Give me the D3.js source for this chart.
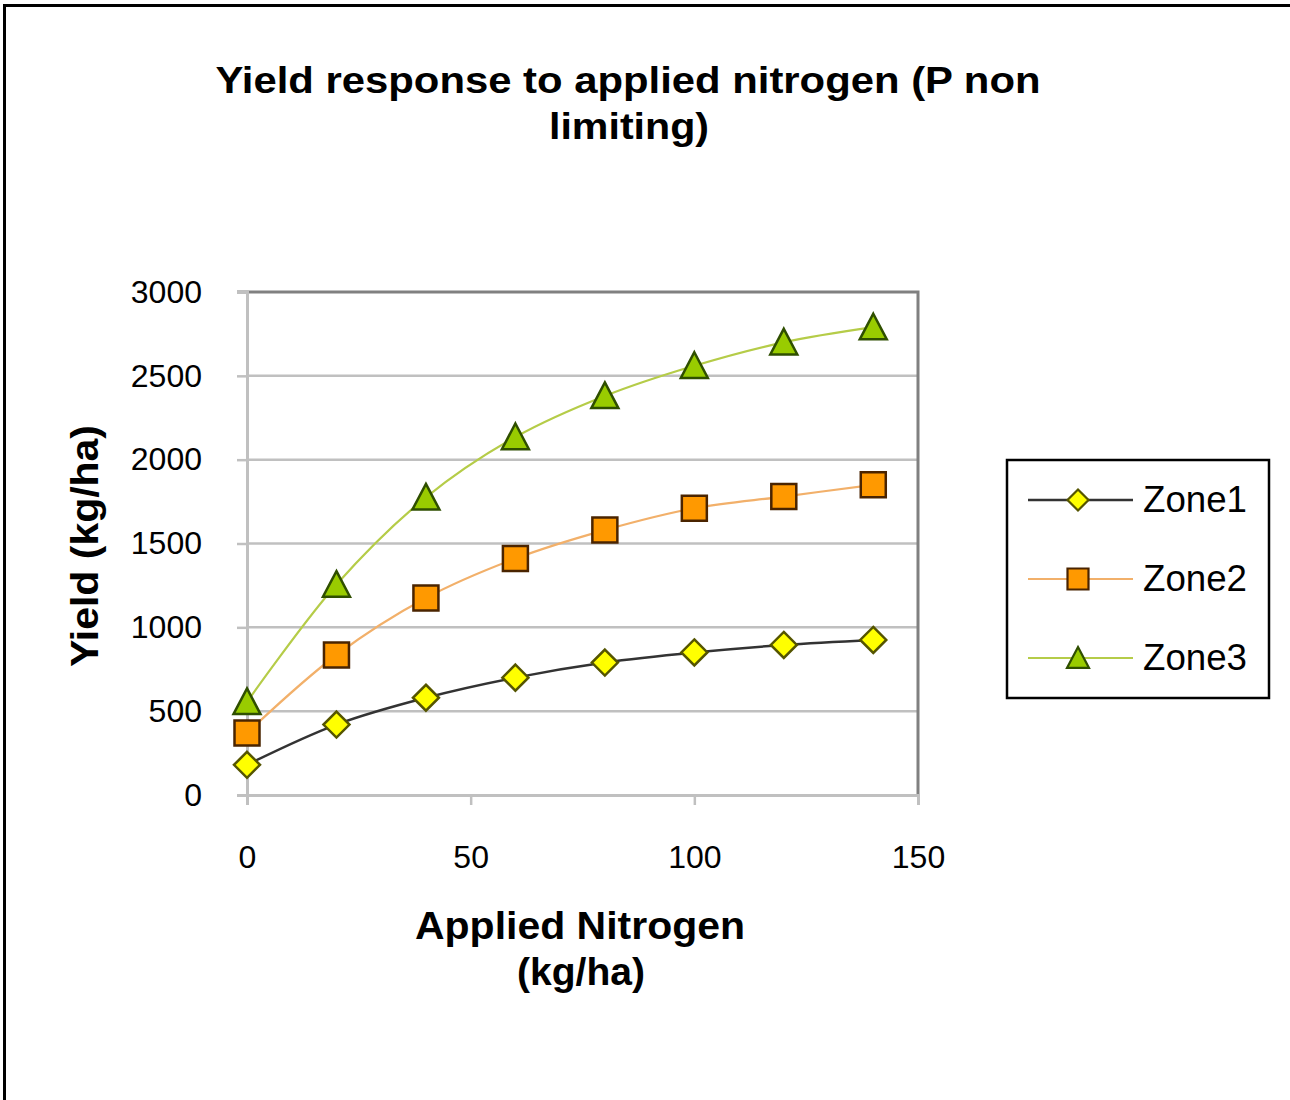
<!DOCTYPE html>
<html>
<head>
<meta charset="utf-8">
<script src="https://cdn.jsdelivr.net/npm/d3@7"></script>
<style>
  html, body { margin: 0; padding: 0; background: #ffffff; }
  svg { display: block; }
  text { font-family: "Liberation Sans", Arial, sans-serif; fill: #000; }
</style>
</head>
<body>
<svg id="chart" width="1290" height="1100"></svg>
<script>
// Applied nitrogen rates (kg/ha)
const nitrogen = [0, 20, 40, 60, 80, 100, 120, 140];
// Yield (kg/ha) for each management zone
const zone1 = [180, 420, 580, 700, 790, 850, 895, 925];
const zone2 = [370, 835, 1175, 1410, 1580, 1710, 1780, 1850];
const zone3 = [555, 1255, 1775, 2135, 2380, 2560, 2700, 2790];
const seriesNames = ["Zone1", "Zone2", "Zone3"];
const xTicks = [0, 50, 100, 150];
const yTicks = [0, 500, 1000, 1500, 2000, 2500, 3000];

const titleLines = ["Yield response to applied nitrogen (P non", "limiting)"];
const xTitleLines = ["Applied Nitrogen", "(kg/ha)"];
const yTitle = "Yield (kg/ha)";

const series = [
  { name: seriesNames[0], values: zone1, line: "#333333", lineWidth: 2.5, fill: "#ffff00", stroke: "#555500", shape: "diamond" },
  { name: seriesNames[1], values: zone2, line: "#f2b06a", lineWidth: 2.2, fill: "#ff9900", stroke: "#4a2400", shape: "square" },
  { name: seriesNames[2], values: zone3, line: "#b5cc48", lineWidth: 2.2, fill: "#99cc00", stroke: "#2f4f00", shape: "triangle" }
];

const svg = d3.select("#chart");

// outer frame (left and top edges)
svg.append("line").attr("x1", 4.5).attr("x2", 4.5).attr("y1", 4).attr("y2", 1100)
  .attr("stroke", "#000").attr("stroke-width", 3);
svg.append("line").attr("x1", 3).attr("x2", 1290).attr("y1", 5.5).attr("y2", 5.5)
  .attr("stroke", "#000").attr("stroke-width", 3);

const plot = { left: 247, right: 918, top: 292, bottom: 795 };
const x = d3.scaleLinear().domain([0, 150]).range([plot.left, plot.right]);
const y = d3.scaleLinear().domain([0, 3000]).range([plot.bottom, plot.top]);

// gridlines
svg.append("g").selectAll("line").data(yTicks.filter(v => v > 0 && v < 3000)).join("line")
  .attr("x1", plot.left).attr("x2", plot.right)
  .attr("y1", d => y(d)).attr("y2", d => y(d))
  .attr("stroke", "#c0c0c0").attr("stroke-width", 2.5);

// plot area border: top and right darker
svg.append("path")
  .attr("d", `M${plot.left - 10},${plot.top} H${plot.right} V${plot.bottom}`)
  .attr("fill", "none").attr("stroke", "#808080").attr("stroke-width", 3);

// y axis
const yAxis = d3.axisLeft(y).tickValues(yTicks).tickSize(10).tickPadding(35).tickFormat(d3.format("d"));
const gy = svg.append("g").attr("transform", `translate(${plot.left},0)`).call(yAxis);
gy.select(".domain").attr("stroke", "#c0c0c0").attr("stroke-width", 3);
gy.selectAll(".tick line").attr("stroke", "#c0c0c0").attr("stroke-width", 2.5);
gy.selectAll(".tick text").attr("font-size", 32).attr("font-family", "Liberation Sans, Arial, sans-serif").attr("fill", "#000");

// x axis
const xAxis = d3.axisBottom(x).tickValues(xTicks).tickSize(10).tickPadding(40).tickFormat(d3.format("d"));
const gx = svg.append("g").attr("transform", `translate(0,${plot.bottom})`).call(xAxis);
gx.select(".domain").attr("stroke", "#c0c0c0").attr("stroke-width", 3);
gx.selectAll(".tick line").attr("stroke", "#c0c0c0").attr("stroke-width", 2.5);
gx.selectAll(".tick text").attr("font-size", 32).attr("font-family", "Liberation Sans, Arial, sans-serif").attr("fill", "#000");

// marker shapes
function markerPath(shape, size) {
  const h = size / 2;
  if (shape === "diamond") return `M0,${-h} L${h},0 L0,${h} L${-h},0 Z`;
  if (shape === "square") return `M${-h},${-h} H${h} V${h} H${-h} Z`;
  return `M0,${-h} L${h},${h * 0.9} L${-h},${h * 0.9} Z`;
}

const line = d3.line()
  .x((d, i) => x(nitrogen[i]))
  .y(d => y(d))
  .curve(d3.curveCatmullRom.alpha(0.5));

const gSeries = svg.append("g");
series.forEach(s => {
  gSeries.append("path").datum(s.values)
    .attr("d", line)
    .attr("fill", "none")
    .attr("stroke", s.line)
    .attr("stroke-width", s.lineWidth);
});
series.forEach(s => {
  const size = s.shape === "diamond" ? 26 : (s.shape === "square" ? 25 : 27);
  gSeries.append("g").selectAll("path").data(s.values).join("path")
    .attr("transform", (d, i) => `translate(${x(nitrogen[i])},${y(d)})`)
    .attr("d", markerPath(s.shape, size))
    .attr("fill", s.fill)
    .attr("stroke", s.stroke)
    .attr("stroke-width", 2.5)
    .attr("stroke-linejoin", "miter");
});

// title
svg.append("text").attr("x", 628).attr("y", 93).attr("text-anchor", "middle")
  .attr("font-size", 37).attr("font-weight", "bold")
  .attr("textLength", 825).attr("lengthAdjust", "spacingAndGlyphs")
  .text(titleLines[0]);
svg.append("text").attr("x", 629).attr("y", 139).attr("text-anchor", "middle")
  .attr("font-size", 37).attr("font-weight", "bold")
  .attr("textLength", 160).attr("lengthAdjust", "spacingAndGlyphs")
  .text(titleLines[1]);

// x axis title
svg.append("text").attr("x", 580).attr("y", 939).attr("text-anchor", "middle")
  .attr("font-size", 38).attr("font-weight", "bold")
  .attr("textLength", 330).attr("lengthAdjust", "spacingAndGlyphs")
  .text(xTitleLines[0]);
svg.append("text").attr("x", 581).attr("y", 985).attr("text-anchor", "middle")
  .attr("font-size", 38).attr("font-weight", "bold")
  .attr("textLength", 128).attr("lengthAdjust", "spacingAndGlyphs")
  .text(xTitleLines[1]);

// y axis title
svg.append("text")
  .attr("transform", "translate(98,546) rotate(-90)")
  .attr("text-anchor", "middle")
  .attr("font-size", 38).attr("font-weight", "bold")
  .attr("textLength", 242).attr("lengthAdjust", "spacingAndGlyphs")
  .text(yTitle);

// legend
const legend = svg.append("g");
legend.append("rect").attr("x", 1007).attr("y", 460).attr("width", 262).attr("height", 238)
  .attr("fill", "#fff").attr("stroke", "#000").attr("stroke-width", 2.5);
const legendY = [500, 579, 658];
series.forEach((s, i) => {
  const g = legend.append("g").attr("transform", `translate(0,${legendY[i]})`);
  g.append("line").attr("x1", 1028).attr("x2", 1133).attr("y1", 0).attr("y2", 0)
    .attr("stroke", s.line).attr("stroke-width", s.lineWidth);
  const size = s.shape === "diamond" ? 21 : (s.shape === "square" ? 21 : 22);
  g.append("path").attr("transform", "translate(1078,0)")
    .attr("d", markerPath(s.shape, size))
    .attr("fill", s.fill).attr("stroke", s.stroke).attr("stroke-width", 2.2);
  g.append("text").attr("x", 1143).attr("y", 12)
    .attr("font-size", 36)
    .attr("textLength", 104).attr("lengthAdjust", "spacingAndGlyphs")
    .text(s.name);
});
</script>
</body>
</html>
